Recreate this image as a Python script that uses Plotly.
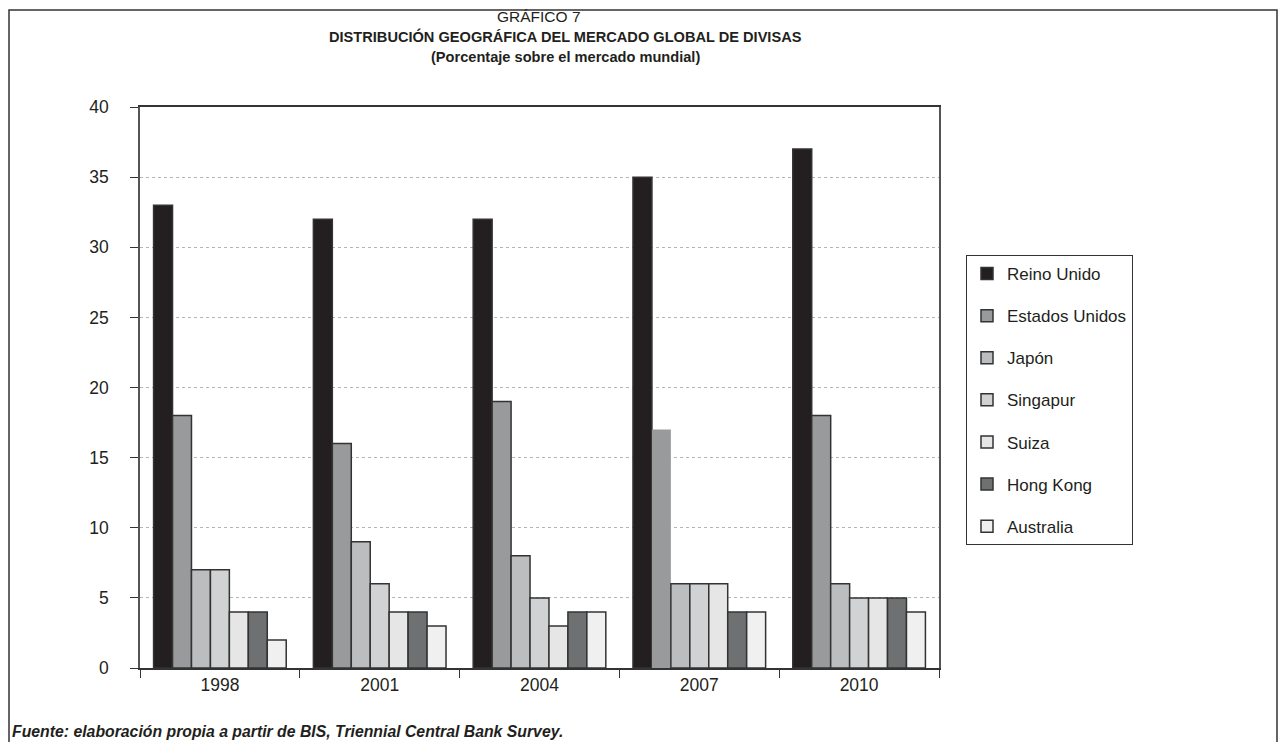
import plotly.graph_objects as go

# Datos: porcentaje sobre el mercado mundial de divisas
years = ["1998", "2001", "2004", "2007", "2010"]
reino_unido = [33, 32, 32, 35, 37]
estados_unidos = [18, 16, 19, 17, 18]
japon = [7, 9, 8, 6, 6]
singapur = [7, 6, 5, 6, 5]
suiza = [4, 4, 3, 6, 5]
hong_kong = [4, 4, 4, 4, 5]
australia = [2, 3, 4, 4, 4]

series = [
    ("Reino Unido", reino_unido, "#231f20", [1.5] * 5),
    ("Estados Unidos", estados_unidos, "#999a9c", [1.5, 1.5, 1.5, 0, 1.5]),
    ("Japón", japon, "#bcbdbf", [1.5] * 5),
    ("Singapur", singapur, "#d1d2d4", [1.5] * 5),
    ("Suiza", suiza, "#e6e6e7", [1.5] * 5),
    ("Hong Kong", hong_kong, "#6f7072", [1.5] * 5),
    ("Australia", australia, "#f0f0f0", [1.5] * 5),
]

FONT = "Liberation Sans, Arial, Helvetica, sans-serif"
W, H = 1279, 742
L, R, T, B = 140, 939, 107, 668  # plot area in pixels


def px(x):
    return (x - L) / (R - L)


def py(y):
    return (B - y) / (B - T)


fig = go.Figure()
for name, vals, color, lw in series:
    fig.add_trace(go.Bar(
        x=years, y=vals, name=name, legendgroup=name,
        marker=dict(color=color, line=dict(color="#333333", width=lw)),
    ))

fig.update_layout(
    width=W, height=H,
    margin=dict(l=L, r=W - R, t=T, b=H - B, autoexpand=False),
    paper_bgcolor="white", plot_bgcolor="white",
    barmode="group", bargap=0.17, bargroupgap=0,
    font=dict(family=FONT, size=17, color="#231f20"),
    showlegend=True,
    legend=dict(
        x=px(966), y=py(255), xanchor="left", yanchor="top",
        bordercolor="#333333", borderwidth=1,
        font=dict(size=17), tracegroupgap=17,
        traceorder="grouped",
    ),
)

fig.update_xaxes(
    type="category", showgrid=False,
    showline=True, linecolor="#333333", linewidth=1.5, mirror=True,
    ticks="outside", tickson="boundaries", ticklen=8, tickcolor="#333333",
    tickfont=dict(size=17.5),
)
fig.update_yaxes(
    range=[0, 40], dtick=5,
    showgrid=True, gridcolor="#b5b5b5", gridwidth=1, griddash="3px,3px",
    showline=True, linecolor="#555555", linewidth=1.5, mirror=True,
    ticks="outside", ticklen=8, tickcolor="#333333",
    tickfont=dict(size=17.5), ticklabelstandoff=18,
    zeroline=False,
)

# Marco exterior
fig.add_shape(type="rect", xref="paper", yref="paper",
              x0=px(9), x1=px(1277), y0=py(760), y1=py(10),
              line=dict(color="#333333", width=1.5), layer="below")

# Títulos
fig.add_annotation(text="GRÁFICO 7", xref="paper", yref="paper",
                   x=px(539), y=py(16), xanchor="center", yanchor="middle",
                   showarrow=False, font=dict(size=15.5))
fig.add_annotation(text="<b>DISTRIBUCIÓN GEOGRÁFICA DEL MERCADO GLOBAL DE DIVISAS</b>",
                   xref="paper", yref="paper", x=px(565), y=py(36),
                   xanchor="center", yanchor="middle", showarrow=False,
                   font=dict(size=14.6))
fig.add_annotation(text="<b>(Porcentaje sobre el mercado mundial)</b>",
                   xref="paper", yref="paper", x=px(565), y=py(57),
                   xanchor="center", yanchor="middle", showarrow=False,
                   font=dict(size=14.6))

# Fuente
fig.add_annotation(text="<b><i>Fuente: elaboración propia a partir de BIS, Triennial Central Bank Survey.</i></b>",
                   xref="paper", yref="paper", x=px(10), y=py(731),
                   xanchor="left", yanchor="middle", showarrow=False,
                   font=dict(size=15.8))

fig.write_html("out.html")
